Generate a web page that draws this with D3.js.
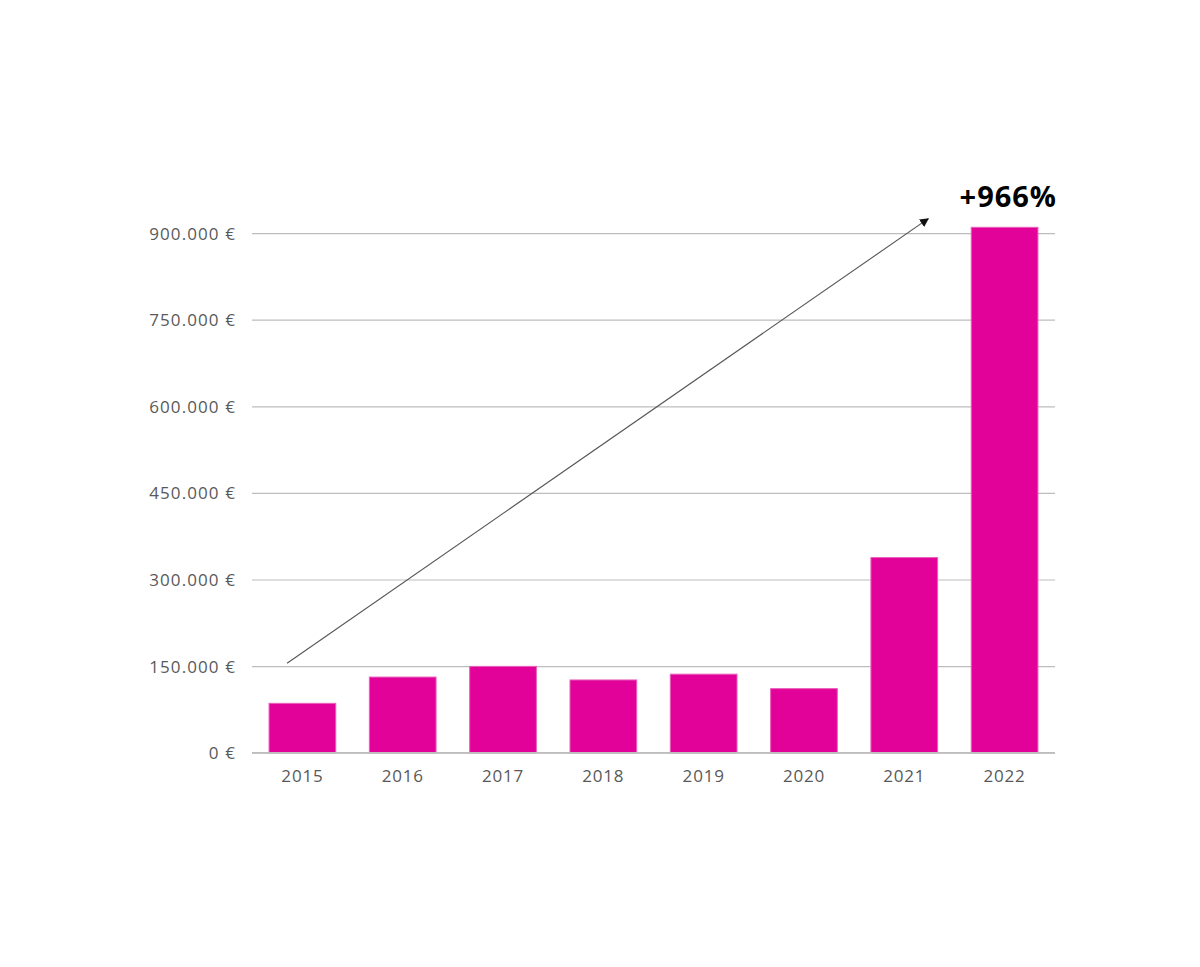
<!DOCTYPE html>
<html><head><meta charset="utf-8">
<script src="https://cdn.jsdelivr.net/npm/d3@7"></script>
<style>body{margin:0;background:#fff}svg{display:block}text{font-family:"Open Sans","Noto Sans",sans-serif}</style>
</head><body><svg id="c" width="1200" height="967"></svg>
<script>
const years = ["2015","2016","2017","2018","2019","2020","2021","2022"];
const values = [85500, 131000, 149500, 126000, 136000, 111000, 338000, 910000];
const yTicks = [0, 150000, 300000, 450000, 600000, 750000, 900000];
const growthLabel = "+966%";

const svg = d3.select("#c");
const m = {left:252, right:1055, top:233.1, bottom:752.7};
const x = d3.scaleBand().domain(years).range([m.left, m.right]).paddingInner(0.335).paddingOuter(0.17);
const y = d3.scaleLinear().domain([0, 900000]).range([m.bottom, m.top]);
const fmt = v => (v === 0 ? "0" : d3.format(",")(v).replace(/,/g, ".")) + " €";

// grid
const yAxis = d3.axisLeft(y).tickValues(yTicks).tickSize(-(m.right - m.left)).tickFormat(fmt).tickPadding(16);
const gy = svg.append("g").attr("transform", `translate(${m.left},0)`).call(yAxis);
gy.select(".domain").remove();
gy.selectAll(".tick line").attr("stroke", "#bdbdbd").attr("stroke-width", 1.2);
gy.selectAll(".tick text").attr("fill", "#595959").attr("font-size", 17).attr("letter-spacing", "1.1px").attr("dy", "0.35em");

// bars
svg.append("g").selectAll("rect").data(years).join("rect")
  .attr("x", d => x(d)).attr("width", x.bandwidth())
  .attr("y", (d, i) => y(values[i])).attr("height", (d, i) => y(0) - y(values[i]))
  .attr("fill", "#e2029a").attr("stroke", "#e860b8").attr("stroke-width", 1);

// baseline
svg.append("line").attr("x1", m.left).attr("x2", m.right).attr("y1", y(0)).attr("y2", y(0))
  .attr("stroke", "#bdbdbd").attr("stroke-width", 1.5);

// x axis
const xAxis = d3.axisBottom(x).tickSize(0).tickPadding(17);
const gx = svg.append("g").attr("transform", `translate(0,${m.bottom})`).call(xAxis);
gx.select(".domain").remove();
gx.selectAll(".tick text").attr("fill", "#595959").attr("font-size", 17).attr("letter-spacing", "0.8px");

// arrow
svg.append("defs").append("marker").attr("id", "ah").attr("viewBox", "0 0 10 10")
  .attr("refX", 9).attr("refY", 5).attr("markerWidth", 9).attr("markerHeight", 9)
  .attr("markerUnits", "userSpaceOnUse").attr("orient", "auto")
  .append("path").attr("d", "M0,0 L10,5 L0,10 z").attr("fill", "#111");
const x0 = x("2015") + x.bandwidth() * 0.27, y0 = y(155000);
const x1 = x("2022") - 43, y1 = y(925000);
svg.append("line").attr("x1", x0).attr("y1", y0).attr("x2", x1).attr("y2", y1)
  .attr("stroke", "#555").attr("stroke-width", 1.1).attr("marker-end", "url(#ah)");

svg.append("text").attr("x", 1057).attr("y", 207).attr("text-anchor", "end")
  .attr("font-size", 29).attr("font-weight", 700).attr("letter-spacing", "1px").attr("fill", "#000").text(growthLabel);
</script></body></html>
